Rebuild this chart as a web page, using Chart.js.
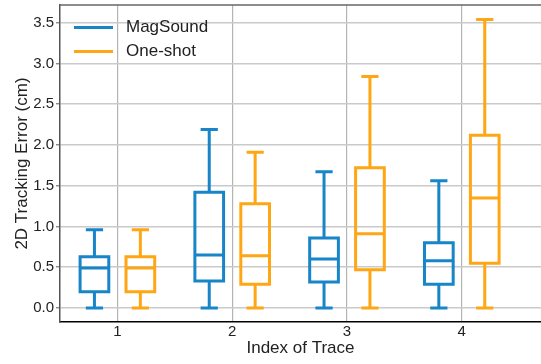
<!DOCTYPE html>
<html>
<head>
<meta charset="utf-8">
<script src="https://cdn.jsdelivr.net/npm/chart.js@4.4.1/dist/chart.umd.min.js"></script>
<style>
  html, body { margin: 0; padding: 0; background: #fff; }
  #wrap { width: 541px; height: 364px; }
</style>
</head>
<body>
<div id="wrap"><canvas id="boxChart" width="541" height="364"></canvas></div>
<script>
// trace indices and y ticks
const traces = [1, 2, 3, 4];
const yTicks = [0, 0.5, 1.0, 1.5, 2.0, 2.5, 3.0, 3.5];

// MagSound box stats (min, q1, median, q3, max)
const magMin = [0, 0, 0, 0];
const magQ1 = [0.20, 0.33, 0.32, 0.29];
const magMed = [0.49, 0.65, 0.60, 0.58];
const magQ3 = [0.63, 1.42, 0.86, 0.80];
const magMax = [0.96, 2.19, 1.67, 1.56];

// One-shot box stats
const oneMin = [0, 0, 0, 0];
const oneQ1 = [0.20, 0.29, 0.47, 0.55];
const oneMed = [0.49, 0.64, 0.91, 1.35];
const oneQ3 = [0.63, 1.28, 1.72, 2.12];
const oneMax = [0.96, 1.91, 2.84, 3.54];

const BLUE = "#1785c7";
const ORANGE = "#ffa614";
const BOX_W = 0.25;
const CAP_W = 0.15;
const FONT = "'Liberation Sans', Arial, sans-serif";

const series = [
    {label: "MagSound", color: BLUE, offset: -0.2, min: magMin, q1: magQ1, med: magMed, q3: magQ3, max: magMax},
    {label: "One-shot", color: ORANGE, offset: 0.2, min: oneMin, q1: oneQ1, med: oneMed, q3: oneQ3, max: oneMax}
];

// draws boxes / whiskers from the arrays through the chart scales
const boxPlugin = {
    id: 'boxes',
    afterDatasetsDraw(chart) {
        const {ctx, scales: {x, y}} = chart;
        ctx.save();
        ctx.lineWidth = 3;
        ctx.lineCap = 'butt';
        series.forEach(s => {
            ctx.strokeStyle = s.color;
            traces.forEach((t, i) => {
                const c = t + s.offset;
                const xl = x.getPixelForValue(c - BOX_W / 2);
                const xr = x.getPixelForValue(c + BOX_W / 2);
                const xc = x.getPixelForValue(c);
                const cl = x.getPixelForValue(c - CAP_W / 2);
                const cr = x.getPixelForValue(c + CAP_W / 2);
                const yMin = y.getPixelForValue(s.min[i]);
                const yQ1 = y.getPixelForValue(s.q1[i]);
                const yMed = y.getPixelForValue(s.med[i]);
                const yQ3 = y.getPixelForValue(s.q3[i]);
                const yMax = y.getPixelForValue(s.max[i]);
                ctx.beginPath();
                ctx.rect(xl, yQ3, xr - xl, yQ1 - yQ3);
                ctx.moveTo(xl, yMed); ctx.lineTo(xr, yMed);
                ctx.moveTo(xc, yQ1); ctx.lineTo(xc, yMin);
                ctx.moveTo(xc, yQ3); ctx.lineTo(xc, yMax);
                ctx.moveTo(cl, yMin); ctx.lineTo(cr, yMin);
                ctx.moveTo(cl, yMax); ctx.lineTo(cr, yMax);
                ctx.stroke();
            });
        });
        ctx.restore();
    },
    afterDraw(chart) {
        const {ctx, chartArea} = chart;
        ctx.save();
        // top spine
        ctx.strokeStyle = '#666';
        ctx.lineWidth = 1.5;
        ctx.beginPath();
        ctx.moveTo(chartArea.left, chartArea.top);
        ctx.lineTo(chartArea.right, chartArea.top);
        ctx.stroke();
        // legend
        ctx.font = "17px " + FONT;
        ctx.textBaseline = 'middle';
        ctx.fillStyle = '#222';
        series.forEach((s, i) => {
            const ly = chartArea.top + 22.5 + i * 24;
            ctx.strokeStyle = s.color;
            ctx.lineWidth = 3;
            ctx.beginPath();
            ctx.moveTo(chartArea.left + 14, ly);
            ctx.lineTo(chartArea.left + 53, ly);
            ctx.stroke();
            ctx.fillText(s.label, chartArea.left + 66, ly);
        });
        ctx.restore();
    }
};

const ctx = document.getElementById('boxChart').getContext('2d');
new Chart(ctx, {
    type: 'scatter',
    data: {
        datasets: series.map(s => ({
            label: s.label,
            data: traces.map((t, i) => ({x: t + s.offset, y: s.med[i]})),
            pointRadius: 0,
            borderColor: s.color,
            backgroundColor: s.color
        }))
    },
    options: {
        responsive: false,
        devicePixelRatio: 1,
        animation: false,
        layout: {padding: {top: 5, left: 0, right: 0, bottom: 0}},
        scales: {
            x: {
                type: 'linear',
                min: 0.5,
                max: 4.69,
                afterBuildTicks: scale => { scale.ticks = traces.map(v => ({value: v})); },
                afterFit: scale => {
                    scale.height = 42;
                    scale.paddingLeft = 0;
                    scale.paddingRight = 0;
                },
                grid: {color: '#b4b4b4', lineWidth: 1.2, drawTicks: false},
                border: {display: true, color: '#000', width: 1.5},
                ticks: {
                    padding: 1,
                    color: '#222',
                    font: {family: FONT, size: 15},
                    callback: v => String(v)
                },
                title: {
                    display: true,
                    text: 'Index of Trace',
                    color: '#222',
                    font: {family: FONT, size: 17},
                    padding: {top: 0, bottom: 5}
                }
            },
            y: {
                type: 'linear',
                min: -0.172,
                max: 3.717,
                afterBuildTicks: scale => { scale.ticks = yTicks.map(v => ({value: v})); },
                afterFit: scale => {
                    scale.width = 60;
                    scale.paddingTop = 0;
                    scale.paddingBottom = 0;
                },
                grid: {color: '#cacaca', lineWidth: 1.5, tickLength: 4, tickColor: '#777', tickWidth: 1.2},
                border: {display: true, color: '#555', width: 1.5},
                ticks: {
                    padding: 2,
                    color: '#222',
                    font: {family: FONT, size: 15},
                    callback: v => v.toFixed(1)
                },
                title: {
                    display: true,
                    text: '2D Tracking Error (cm)',
                    color: '#222',
                    font: {family: FONT, size: 17},
                    padding: {top: 12, bottom: 0}
                }
            }
        },
        plugins: {
            legend: {display: false},
            tooltip: {enabled: false}
        }
    },
    plugins: [boxPlugin]
});
</script>
</body>
</html>
